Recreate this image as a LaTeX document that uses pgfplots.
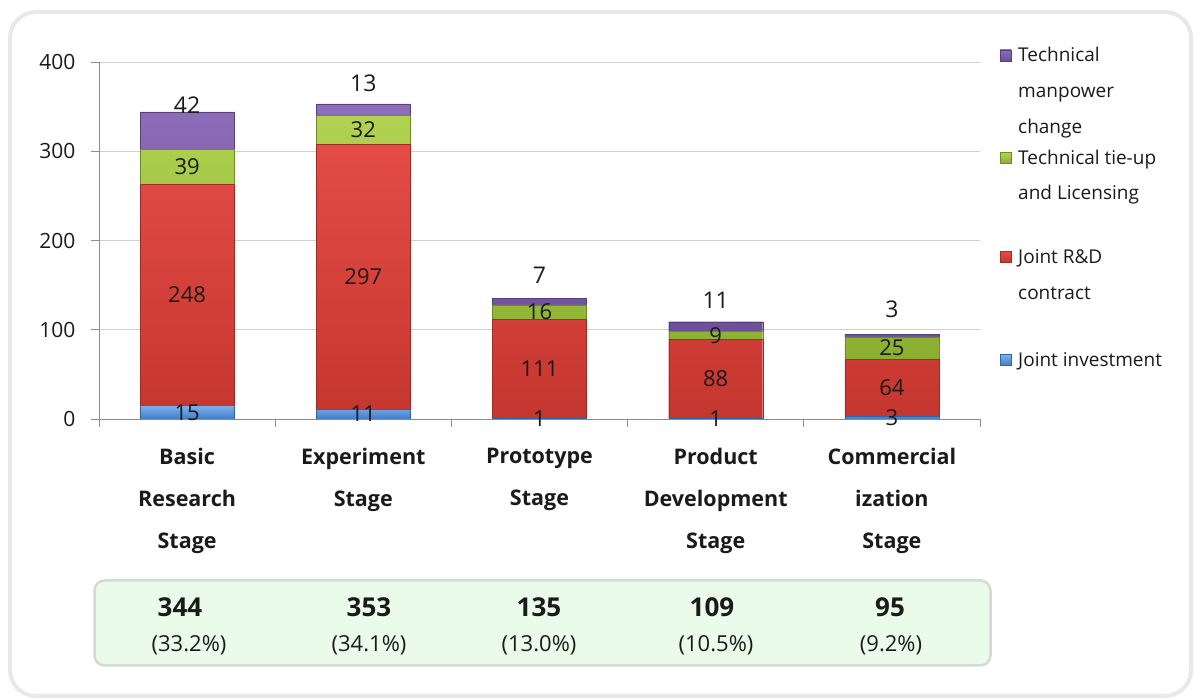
\documentclass[border=0pt]{standalone}
\usepackage{fontspec}
\setmainfont{Open Sans}
\usepackage{pgfplots}
\pgfplotsset{compat=1.18}

\definecolor{BlueTop}{HTML}{7FB2EA}
\definecolor{BlueBot}{HTML}{3F7CC8}
\definecolor{RedTop}{HTML}{E44C46}
\definecolor{RedBot}{HTML}{C4362F}
\definecolor{GreenTop}{HTML}{B2D352}
\definecolor{GreenBot}{HTML}{8AAF30}
\definecolor{PurpTop}{HTML}{8E6DBA}
\definecolor{PurpBot}{HTML}{6D4F98}
\definecolor{AxisGray}{HTML}{8C8C8C}
\definecolor{GridGray}{HTML}{D0D0D0}
\definecolor{FrameGray}{HTML}{E8E8E8}
\definecolor{BoxFill}{HTML}{EAFBEA}
\definecolor{BoxEdge}{HTML}{D6DAD6}
\definecolor{Ink}{HTML}{1A1A1A}

% stacked bars: labels sit at the middle of each segment already
\pgfplotsset{
  seglabel/.style={
    nodes near coords={\pgfmathprintnumber[assume math mode=true]{\rawy}},
    visualization depends on={rawy \as \rawy},
    every node near coord/.style={anchor=center, text=Ink,
      font=\fontsize{22}{26}\selectfont}},
  toplabel/.style={
    nodes near coords={\pgfmathprintnumber[assume math mode=true]{\rawy}},
    visualization depends on={rawy \as \rawy},
    every node near coord/.style={anchor=center, text=Ink,
      font=\fontsize{23}{26}\selectfont, yshift=26pt}},
}

\begin{document}
\begin{tikzpicture}
\useasboundingbox (0,0) rectangle (1194pt,698pt);
\draw[line width=4pt, color=FrameGray, rounded corners=26pt] (10pt,2pt) rectangle (1191pt,686pt);

\begin{axis}[
  at={(99pt,279pt)}, anchor=south west,
  scale only axis, width=881pt, height=357pt,
  xmin=-0.5, xmax=4.5, ymin=0, ymax=400,
  ybar stacked, bar width=94pt,
  axis x line*=bottom, axis y line*=left,
  axis line style={AxisGray, line width=0.8pt},
  xtick={-0.5,0.5,...,4.5}, xticklabels={},
  extra x ticks={0,1,2,3,4},
  extra x tick labels={{Basic\\Research\\Stage},{Experiment\\Stage},{Prototype\\Stage},{Product\\Development\\Stage},{Commercial\\ization\\Stage}},
  extra x tick style={major tick length=0pt},
  ytick={0,100,200,300,400},
  /pgf/number format/assume math mode=true,
  tick align=outside, major tick length=8pt,
  tick style={AxisGray, line width=0.8pt},
  ymajorgrids, grid style={GridGray, line width=0.8pt},
  xticklabel style={align=center, text=Ink, yshift=-26pt,
    font=\bfseries\fontsize{21.5}{42}\selectfont},
  yticklabel style={text=Ink, xshift=-12pt, font=\fontsize{21}{24}\selectfont},
]
\addplot[seglabel, top color=BlueTop, bottom color=BlueBot, draw=BlueBot!80!black, line width=0.4pt]
  coordinates {(0,15) (1,11) (2,1) (3,1) (4,3)};
\addplot[seglabel, top color=RedTop, bottom color=RedBot, draw=RedBot!80!black, line width=0.4pt]
  coordinates {(0,248) (1,297) (2,111) (3,88) (4,64)};
\addplot[seglabel, top color=GreenTop, bottom color=GreenBot, draw=GreenBot!80!black, line width=0.4pt]
  coordinates {(0,39) (1,32) (2,16) (3,9) (4,25)};
\addplot[toplabel, top color=PurpTop, bottom color=PurpBot, draw=PurpBot!80!black, line width=0.4pt]
  coordinates {(0,42) (1,13) (2,7) (3,11) (4,3)};
\end{axis}

% legend
\begin{scope}[every node/.style={text=Ink, anchor=base west, inner sep=0pt,
    font=\fontsize{19}{22}\selectfont}]
\shade[top color=PurpTop, bottom color=PurpBot, draw=PurpBot!80!black, line width=0.4pt] (1000pt,637pt) rectangle (1011pt,648pt);
\node at (1018pt,636pt) {Technical};
\node at (1018pt,600pt) {manpower};
\node at (1018pt,564pt) {change};
\shade[top color=GreenTop, bottom color=GreenBot, draw=GreenBot!80!black, line width=0.4pt] (1000pt,534.5pt) rectangle (1011pt,545.5pt);
\node at (1018pt,533.5pt) {Technical tie-up};
\node at (1018pt,498pt) {and Licensing};
\shade[top color=RedTop, bottom color=RedBot, draw=RedBot!80!black, line width=0.4pt] (1000pt,435.5pt) rectangle (1011pt,446.5pt);
\node at (1018pt,434.5pt) {Joint R\&D};
\node at (1018pt,398pt) {contract};
\shade[top color=BlueTop, bottom color=BlueBot, draw=BlueBot!80!black, line width=0.4pt] (1000pt,332.5pt) rectangle (1011pt,343.5pt);
\node at (1018pt,331.5pt) {Joint investment};
\end{scope}

\draw[line width=2.5pt, draw=BoxEdge, fill=BoxFill, rounded corners=10pt]
  (94.5pt,32.5pt) rectangle (990.5pt,117.5pt);
\begin{scope}[every node/.style={text=Ink}]
\node[font=\bfseries\fontsize{26}{30}\selectfont] at (180pt,91pt) {344};
\node[font=\bfseries\fontsize{26}{30}\selectfont] at (369pt,91pt) {353};
\node[font=\bfseries\fontsize{26}{30}\selectfont] at (539pt,91pt) {135};
\node[font=\bfseries\fontsize{26}{30}\selectfont] at (712pt,91pt) {109};
\node[font=\bfseries\fontsize{26}{30}\selectfont] at (890pt,91pt) {95};
\node[font=\fontsize{22}{26}\selectfont] at (189pt,53pt) {(33.2\%)};
\node[font=\fontsize{22}{26}\selectfont] at (369pt,53pt) {(34.1\%)};
\node[font=\fontsize{22}{26}\selectfont] at (539pt,53pt) {(13.0\%)};
\node[font=\fontsize{22}{26}\selectfont] at (716pt,53pt) {(10.5\%)};
\node[font=\fontsize{22}{26}\selectfont] at (891pt,53pt) {(9.2\%)};
\end{scope}
\end{tikzpicture}
\end{document}
